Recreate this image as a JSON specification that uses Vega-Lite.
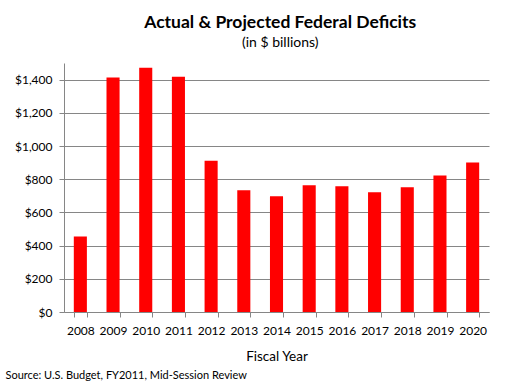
{
  "$schema": "https://vega.github.io/schema/vega-lite/v6.json",
  "background": "white",
  "padding": {"left": 5, "right": 16, "top": 13, "bottom": 4},
  "title": {
    "text": "Actual & Projected Federal Deficits",
    "subtitle": "(in $ billions)",
    "font": "Lato",
    "fontSize": 17.5,
    "fontWeight": "bold",
    "color": "black",
    "subtitleFont": "Lato",
    "subtitleFontSize": 14,
    "subtitleColor": "black",
    "subtitlePadding": 5,
    "anchor": "middle",
    "offset": 13,
    "dx": 33
  },
  "vconcat": [
    {
      "width": 425,
      "height": 249,
      "title": {
        "text": "Source: U.S. Budget, FY2011, Mid-Session Review",
        "orient": "bottom",
        "anchor": "start",
        "frame": "bounds",
        "font": "Lato",
        "fontSize": 11,
        "fontWeight": "normal",
        "color": "black",
        "offset": 7,
        "dx": -9
      },
      "data": {
        "values": [
          {"year": "2008", "deficit": 455},
          {"year": "2009", "deficit": 1413},
          {"year": "2010", "deficit": 1471},
          {"year": "2011", "deficit": 1417},
          {"year": "2012", "deficit": 911},
          {"year": "2013", "deficit": 733},
          {"year": "2014", "deficit": 697},
          {"year": "2015", "deficit": 763},
          {"year": "2016", "deficit": 757},
          {"year": "2017", "deficit": 721},
          {"year": "2018", "deficit": 751},
          {"year": "2019", "deficit": 823},
          {"year": "2020", "deficit": 901}
        ]
      },
      "mark": {"type": "bar", "color": "#ff0000"},
      "encoding": {
        "x": {
          "field": "year",
          "type": "ordinal",
          "scale": {"paddingInner": 0.6, "paddingOuter": 0.3},
          "axis": {
            "title": "Fiscal Year",
            "titleFont": "Lato",
            "titleFontSize": 13.5,
            "titleFontWeight": "normal",
            "titleColor": "black",
            "titlePadding": 13,
            "labelAngle": 0,
            "labelFont": "Lato",
            "labelFontSize": 12,
            "labelColor": "black",
            "labelPadding": 8,
            "tickBand": "extent",
            "tickSize": 5,
            "tickColor": "#868686",
            "domainColor": "#868686",
            "grid": false
          }
        },
        "y": {
          "field": "deficit",
          "type": "quantitative",
          "scale": {"domain": [0, 1500], "nice": false},
          "axis": {
            "title": null,
            "values": [0, 200, 400, 600, 800, 1000, 1200, 1400],
            "format": "$,.0f",
            "labelFont": "Lato",
            "labelFontSize": 12,
            "labelColor": "black",
            "labelPadding": 7,
            "tickSize": 5,
            "tickColor": "#868686",
            "domainColor": "#868686",
            "grid": true,
            "gridColor": "#868686"
          }
        }
      }
    }
  ],
  "config": {"view": {"stroke": null}}
}
